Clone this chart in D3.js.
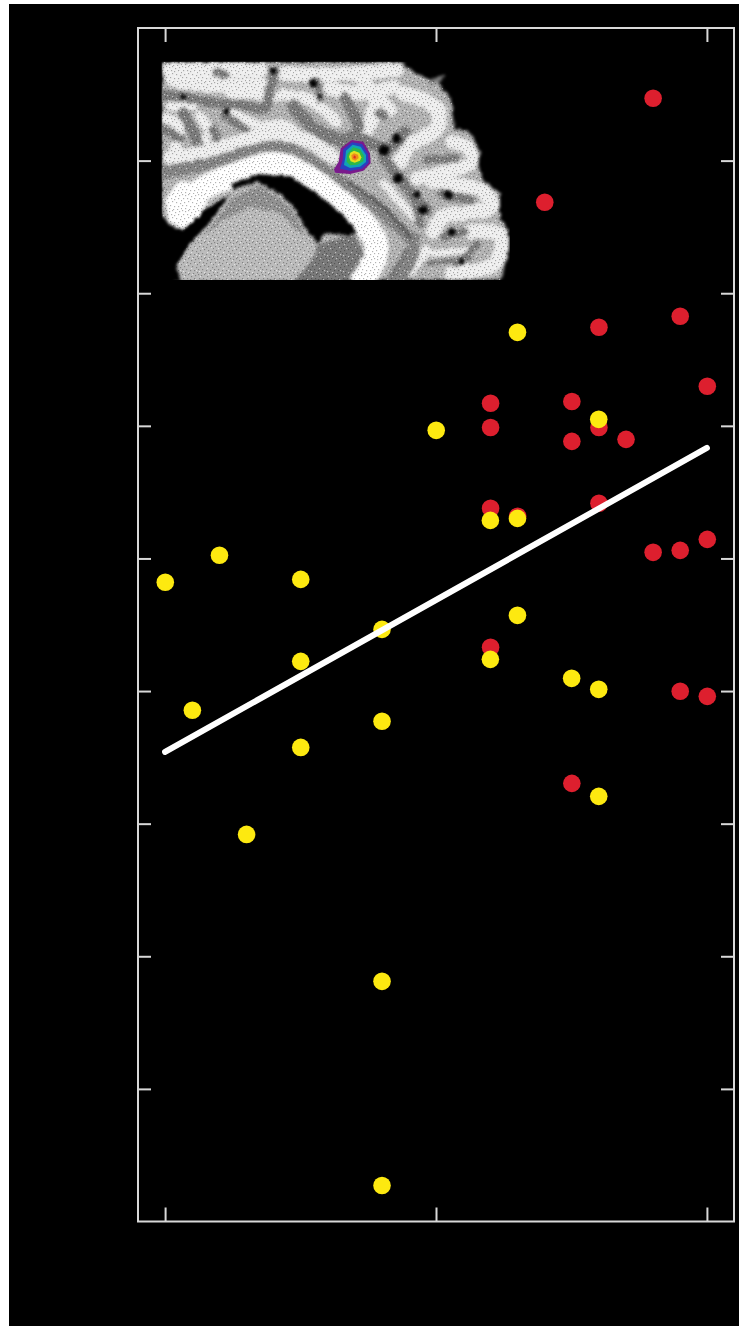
<!DOCTYPE html>
<html><head><meta charset="utf-8">
<script src="https://cdn.jsdelivr.net/npm/d3@7/dist/d3.min.js"></script>
<style>html,body{margin:0;padding:0;background:#fff;overflow:hidden}svg{display:block}</style>
</head><body><div id="c"></div>
<script>
const redX=[18,14,16,19,20,12,15,12,16,15,17,12,13,16,18,19,20,12,19,20,15];
const redY=[8.473,7.689,6.746,6.829,6.301,6.173,6.187,5.991,5.991,5.886,5.901,5.381,5.321,5.419,5.049,5.064,5.147,4.333,4.001,3.963,3.307];
const yellowX=[13,16,10,12,13,0,2,5,13,8,5,12,15,16,1,8,5,16,3,8,8];
const yellowY=[6.708,6.052,5.969,5.290,5.305,4.824,5.027,4.845,4.574,4.468,4.227,4.242,4.099,4.016,3.858,3.775,3.578,3.209,2.922,1.814,0.275];
const fitX=[0,20];
const fitY=[3.541,5.833];
const xTicks=[0,10,20];
const yTicks=[1,2,3,4,5,6,7,8];

const W=739,H=1326;
const svg=d3.select("#c").append("svg").attr("width",W).attr("height",H);
svg.append("rect").attr("x",9).attr("y",4).attr("width",W-9).attr("height",H-4).attr("fill","#000");
const x=d3.scaleLinear().domain([-1,21]).range([138,734]);
const y=d3.scaleLinear().domain([0,9]).range([1221.5,28]);

const FR="#d8d8d8";
svg.append("rect").attr("x",138).attr("y",28).attr("width",596).attr("height",1193.5)
 .attr("fill","none").attr("stroke",FR).attr("stroke-width",2);
function axis(g,a){g.call(a.tickFormat("").tickSizeOuter(0));g.select(".domain").remove();g.selectAll("line").attr("stroke",FR).attr("stroke-width",2);}
svg.append("g").attr("transform","translate(0,1221.5)").call(g=>axis(g,d3.axisBottom(x).tickValues(xTicks).tickSizeInner(-14)));
svg.append("g").attr("transform","translate(0,28)").call(g=>axis(g,d3.axisTop(x).tickValues(xTicks).tickSizeInner(-14)));
svg.append("g").attr("transform","translate(138,0)").call(g=>axis(g,d3.axisLeft(y).tickValues(yTicks).tickSizeInner(-13)));
svg.append("g").attr("transform","translate(734,0)").call(g=>axis(g,d3.axisRight(y).tickValues(yTicks).tickSizeInner(-13)));

// decorative brain inset, traced in crop coordinates
const defs=svg.append("defs");
const sil="M35,35 L750,35 L800,72 L868,100 L905,150 L912,235 L960,245 L990,305 L985,345 L1000,392 L1050,430 L1050,505 L1075,540 L1075,605 L1052,690 L95,690 L75,650 L120,575 L175,520 L240,440 L165,480 L100,545 L60,525 L35,495 Z";
defs.append("clipPath").attr("id","sil").append("rect").attr("x",35).attr("y",35).attr("width",1045).attr("height",655);
const p1=defs.append("pattern").attr("id","st").attr("width",48).attr("height",48).attr("patternUnits","userSpaceOnUse");
[[0,0],[9,3],[18,0],[27,6],[39,3],[3,12],[15,12],[24,15],[36,12],[45,18],[6,24],[18,21],[30,24],[42,27],[0,33],[12,33],[24,36],[36,36],[9,42],[21,45],[33,45],[45,42]]
 .forEach(c=>p1.append("rect").attr("x",c[0]).attr("y",c[1]).attr("width",3.5).attr("height",3.5).attr("fill","#000").attr("opacity",.3));
const p2=defs.append("pattern").attr("id","st2").attr("width",48).attr("height",48).attr("patternUnits","userSpaceOnUse");
[[6,6],[30,0],[12,18],[39,15],[27,30],[3,39],[42,36],[18,42]]
 .forEach(c=>p2.append("rect").attr("x",c[0]).attr("y",c[1]).attr("width",3.5).attr("height",3.5).attr("fill","#fff").attr("opacity",.55));
const f=defs.append("filter").attr("id","rag").attr("x","-5%").attr("y","-5%").attr("width","110%").attr("height","110%");
f.append("feTurbulence").attr("type","fractalNoise").attr("baseFrequency",.09).attr("numOctaves",2).attr("seed",4).attr("result","n");
f.append("feDisplacementMap").attr("in","SourceGraphic").attr("in2","n").attr("scale",16).attr("xChannelSelector","R").attr("yChannelSelector","G").attr("result","d");
f.append("feGaussianBlur").attr("in","d").attr("stdDeviation",5);

const b=svg.append("g").attr("transform","translate(150,50) scale(0.33333)");
const cl=b.append("g").attr("clip-path","url(#sil)");
const inner=cl.append("g").attr("filter","url(#rag)");
function st(d,w,c,t){t=t||inner;t.append("path").attr("d",d).attr("fill","none").attr("stroke",c).attr("stroke-width",w).attr("stroke-linecap","round").attr("stroke-linejoin","round");}
function fl(d,c,t){t=t||inner;t.append("path").attr("d",d).attr("fill",c);}
const cv=d3.curveCatmullRom;
const smooth=pts=>d3.line().curve(cv)(pts);
const W1="#efefef",G="#7c7c7c",K="#050505";

fl(sil,"#b4b4b4");
// bright gyri
[
 [[70,90],[180,105],[335,105]],[[60,60],[330,60]],
 [[400,70],[490,75],[600,70],[740,60]],[[540,115],[640,130],[730,110]],
 [[400,135],[480,150],[560,215]],[[650,110],[680,165],[650,235]],
 [[760,130],[860,175],[860,235],[780,285],[750,335]],
 [[905,275],[955,295],[965,335],[870,370],[800,385]],
 [[850,395],[1000,425],[1025,470],[940,490],[880,500],[850,545]],
 [[960,545],[1050,555],[1035,640],[905,670]],[[830,600],[780,665]],
 [[50,205],[85,225],[75,300]],[[150,200],[235,290],[320,265]],
 [[250,190],[330,225],[410,225],[450,265]],[[240,130],[380,140]],
 [[60,170],[130,170]],[[165,260],[175,300]],[[700,400],[790,500]],
 [[620,70],[720,180]],[[850,610],[960,600]]
].forEach((p,i)=>st(smooth(p),[44,46,42,42,34,46,46,40,44,44,30,34,32,28,30,24,20,24,40,20][i],W1));
// sulci
[
 [[35,135],[100,140],[200,160],[280,165],[345,175],[360,115],[375,65]],
 [[100,190],[135,260],[150,320]],[[35,235],[90,265]],[[190,240],[210,285]],[[225,195],[295,245]],
 [[430,170],[500,240],[575,272]],[[585,145],[625,235],[580,275]],
 [[200,65],[225,75]],[[500,90],[510,150]],[[690,190],[700,195]],
 [[635,265],[715,295],[765,245]],[[700,320],[760,400],[830,480]],
 [[830,330],[915,325]],[[875,430],[960,450]],[[880,560],[945,545]],
 [[985,580],[920,640]],[[800,560],[720,690]],[[835,640],[960,625]],
 [[880,80],[840,100]],[[790,440],[810,520]]
].forEach((p,i)=>st(smooth(p),[30,34,28,30,26,40,34,26,20,30,36,34,26,30,24,22,22,14,10,26][i],G));
// deep structures
fl("M75,695 L75,650 L120,575 L180,500 L240,430 L330,400 L400,450 L470,560 L505,600 L480,640 L430,695 Z","#bcbcbc");
fl("M505,585 L610,550 L650,620 L590,695 L430,695 L480,640 Z","#7a7a7a");
fl("M160,560 L250,440 L330,405 L420,470 L470,570 L390,490 L300,470 L220,510 Z","#929292");
// cingulate band
st(smooth([[35,370],[180,340],[330,292],[420,298],[520,358],[620,428],[720,510],[792,590],[745,695]]),36,"#868686");
// white matter
st(smooth([[60,322],[190,300],[360,250],[470,270],[548,322]]),42,W1);
st(smooth([[600,400],[700,470],[780,560]]),14,"#606060");
st(smooth([[40,352],[190,322],[340,278],[440,290]]),6,"#808080");
st(smooth([[100,455],[180,405],[280,365],[380,342],[480,385],[570,455],[650,530],[680,600],[640,690]]),72,"#ffffff");
fl("M45,450 L85,395 L155,395 L175,450 L150,500 L100,540 L55,512 Z","#ffffff");
// stipple
cl.append("path").attr("d",sil).attr("fill","url(#st)");
cl.append("path").attr("d",sil).attr("fill","url(#st2)");
// solid black
const blk=cl.append("g").attr("filter","url(#rag)");
fl("M245,402 L320,372 L420,378 L500,430 L580,495 L622,548 L600,556 L522,550 L505,582 L470,540 L430,470 L390,430 L320,396 L250,416 Z",K,blk);
fl("M35,530 L100,548 L165,482 L240,432 L175,522 L120,577 L75,650 L95,695 L35,695 Z",K,blk);
[[370,62,11],[490,100,13],[230,183,9],[100,140,9],[510,140,7],[700,300,17],[740,265,13],[745,385,14],[820,480,14],[895,435,13],[905,545,12],[800,435,10],[935,635,8],[885,120,6]]
 .forEach(c=>blk.append("circle").attr("cx",c[0]).attr("cy",c[1]).attr("r",c[2]).attr("fill",K));
// activation blob
const blob=[["#7a1a8c","M605,270 L640,275 L660,310 L662,340 L640,362 L600,372 L555,368 L552,358 L566,335 L572,295 Z"],
["#2a3fc0","M606,277 L636,282 L654,312 L656,338 L636,356 L600,362 L570,356 L578,330 L580,298 Z"],
["#11a3b5","M608,284 L632,290 L648,315 L648,336 L630,350 L600,354 L582,345 L586,322 L588,302 Z"],
["#2db84a","M610,292 L630,298 L642,318 L640,334 L622,344 L600,346 L590,335 L592,312 Z"],
["#e6df1e","M612,302 L628,308 L634,322 L630,332 L614,338 L602,334 L597,320 L601,308 Z"],
["#f08a1c","M612,310 L624,314 L626,324 L616,332 L606,328 L604,316 Z"],
["#e0301e","M612,316 L618,320 L616,326 L610,324 Z"]];
b.selectAll(".bl").data(blob).join("path").attr("d",d=>d[1]).attr("fill",d=>d[0]);

// points
const R=8.8;
svg.append("g").selectAll("circle").data(d3.zip(redX,redY)).join("circle")
 .attr("cx",d=>x(d[0])+.4).attr("cy",d=>y(d[1])+.4).attr("r",R).attr("fill","#dd1f2e");
svg.append("g").selectAll("circle").data(d3.zip(yellowX,yellowY)).join("circle")
 .attr("cx",d=>x(d[0])+.2).attr("cy",d=>y(d[1])+.4).attr("r",R).attr("fill","#fde910");
svg.append("path").datum(d3.zip(fitX,fitY))
 .attr("d",d3.line().x(d=>x(d[0])).y(d=>y(d[1]))).attr("stroke","#fff").attr("stroke-width",6).attr("fill","none").attr("stroke-linecap","round");
</script></body></html>
